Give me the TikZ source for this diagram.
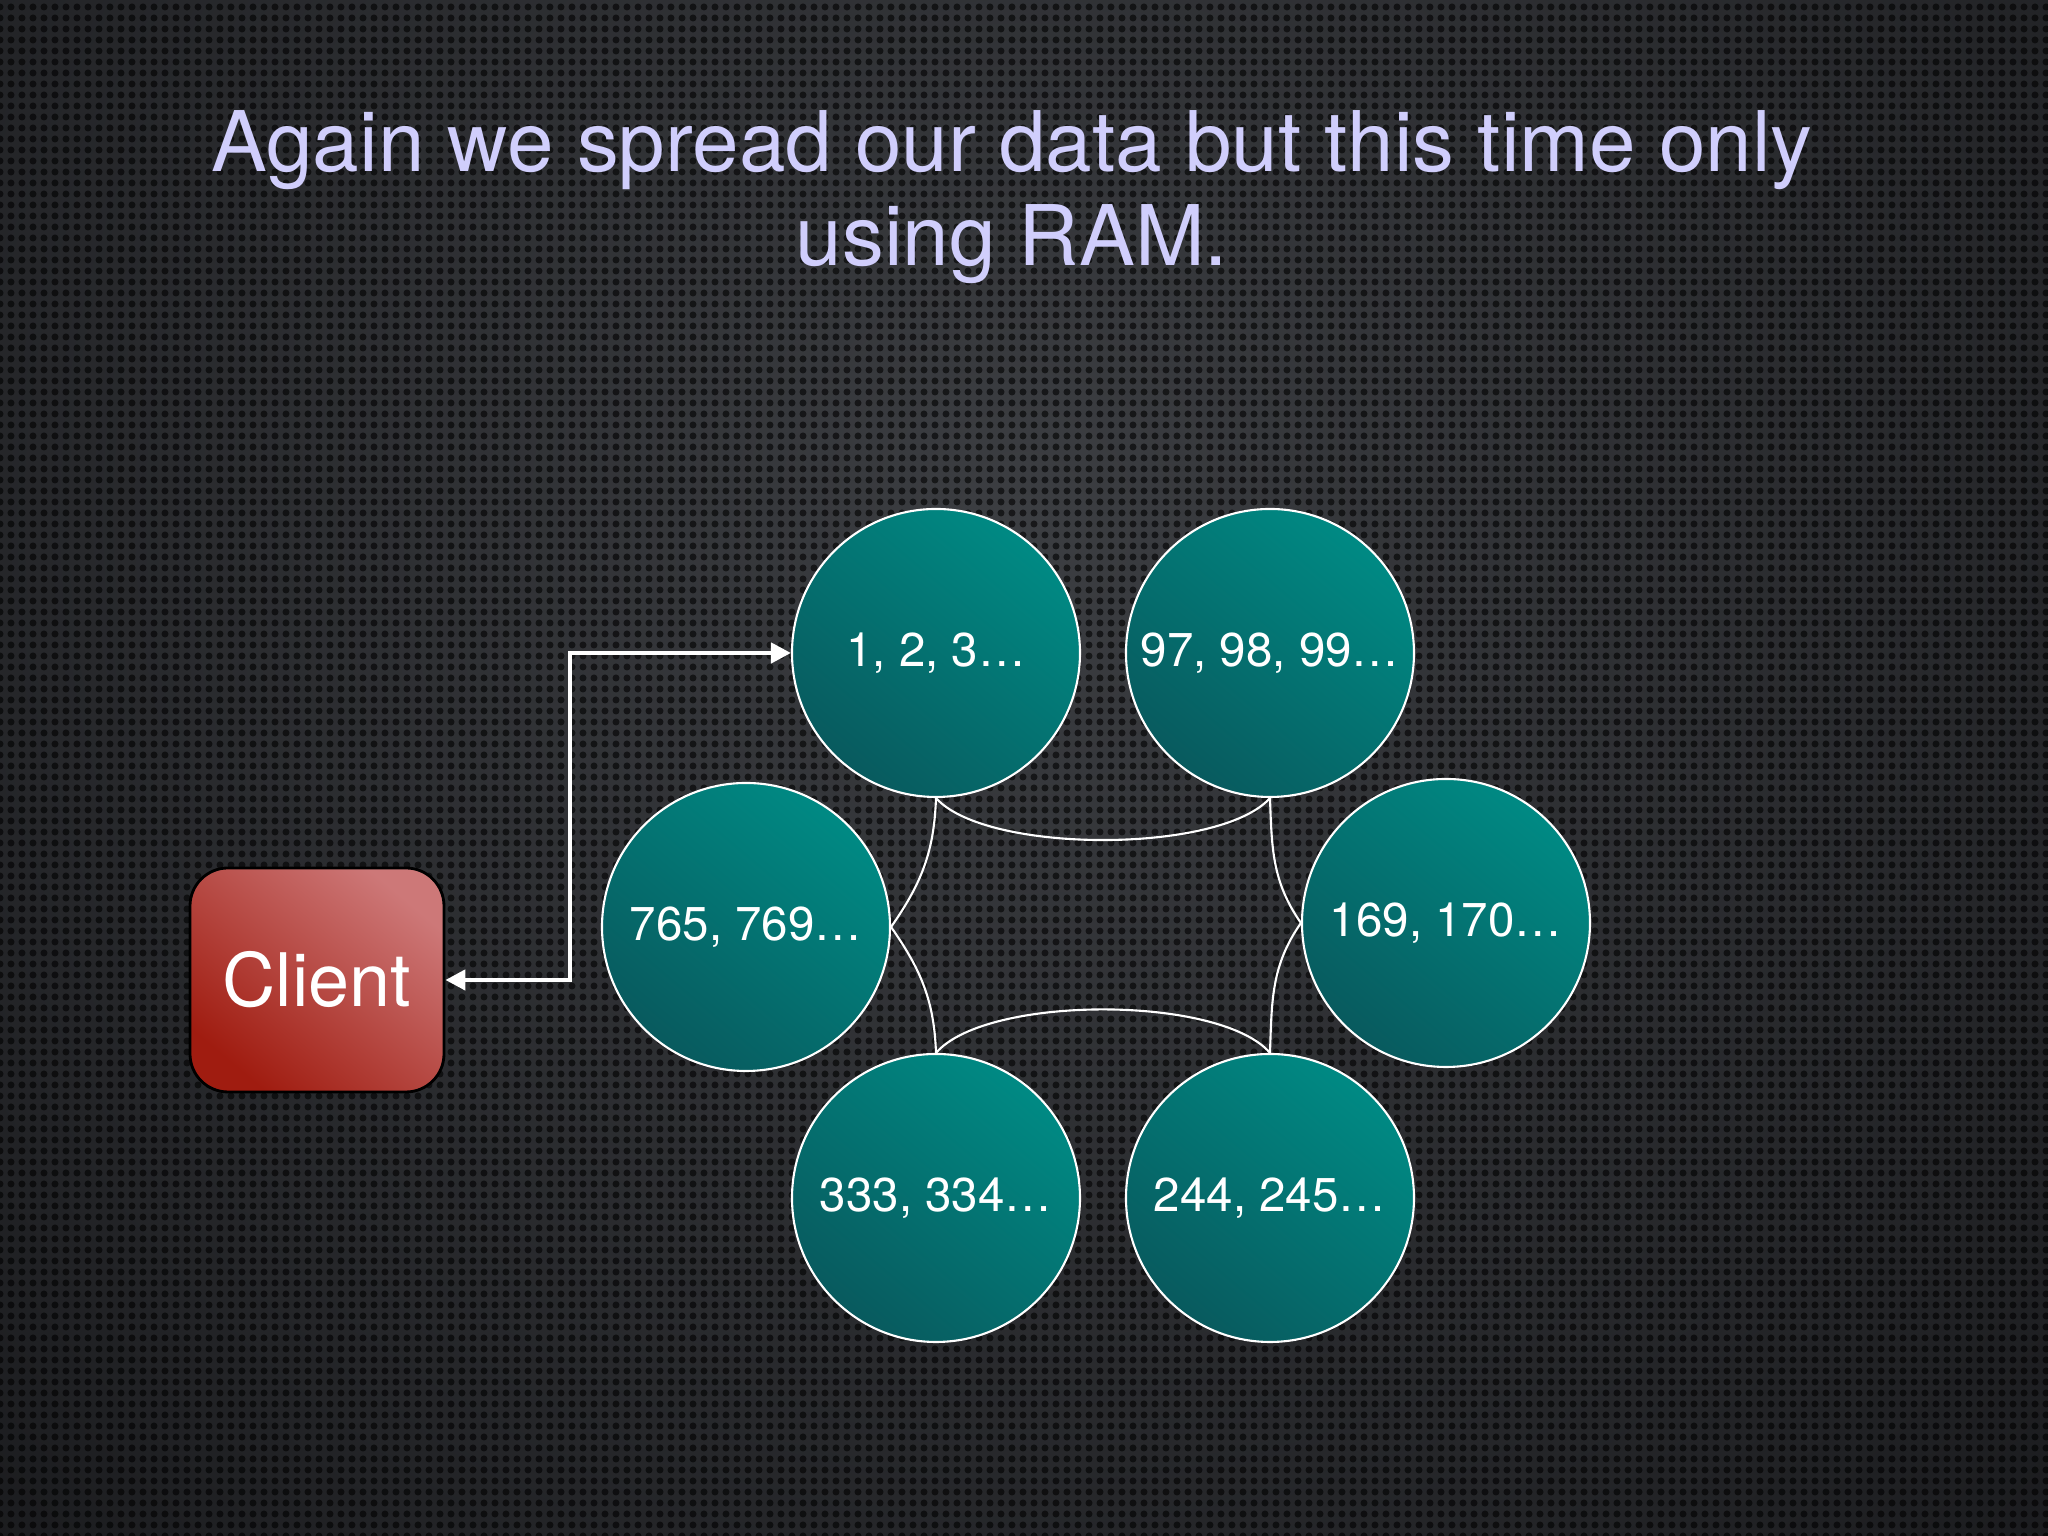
\documentclass[tikz,border=0pt]{standalone}
\usepackage{fontspec}
\setmainfont{TeX Gyre Heros}
\usepackage{xcolor}
\usepackage{tikz}
\usetikzlibrary{arrows.meta,patterns.meta}
\definecolor{titlelav}{RGB}{208,206,252}
\definecolor{bgmid}{RGB}{60,62,66}
\definecolor{bgedge}{RGB}{6,6,8}
\definecolor{tealtop}{RGB}{0,138,132}
\definecolor{tealbot}{RGB}{8,90,94}
\definecolor{redtop}{RGB}{205,120,120}
\definecolor{redbot}{RGB}{160,28,16}
\tikzset{
  ram/.style={circle, draw=white, line width=0.6pt, minimum size=2.88cm, inner sep=0pt,
    top color=tealtop, bottom color=tealbot, shading angle=-40,
    text=white, font=\fontsize{13.5}{16}\selectfont},
  client/.style={rectangle, rounded corners=0.38cm, draw=black, line width=0.8pt,
    minimum width=2.54cm, minimum height=2.24cm, top color=redtop, bottom color=redbot,
    shading angle=-40, text=white, font=\fontsize{21}{25}\selectfont},
  wire/.style={white, line width=0.6pt},
  link/.style={white, line width=1.3pt,
    {Triangle[length=2mm,width=2mm]}-{Triangle[length=2mm,width=2mm]}}
}
\begin{document}
\begin{tikzpicture}
\useasboundingbox (0,0) rectangle (20.48,15.36);
\fill[bgedge] (0,0) rectangle (20.48,15.36);
\begin{scope}
  \clip (0,0) rectangle (20.48,15.36);
  \shade[inner color=bgmid, outer color=bgedge] (10.24,10.2) circle (24);
  \fill[pattern={Dots[distance=0.11cm,radius=0.035cm]}, pattern color=black, opacity=0.6]
    (0,0) rectangle (20.48,15.36);
\end{scope}

\node[text=titlelav, align=center, anchor=north, inner sep=0pt,
  font=\fontsize{23.8}{26.8}\selectfont] (title) at (10.12,14.26)
  {Again we spread our data but this time only\\using RAM.};

\node[ram] (ram1) at (9.36,8.83) {1, 2, 3…};
\node[ram] (ram2) at (12.70,8.83) {97, 98, 99…};
\node[ram] (ram3) at (14.46,6.13) {169, 170…};
\node[ram] (ram4) at (7.46,6.09) {765, 769…};
\node[ram] (ram5) at (9.36,3.38) {333, 334…};
\node[ram] (ram6) at (12.70,3.38) {244, 245…};
\node[client] (client) at (3.17,5.56) {Client};

\coordinate (bend) at (5.70,7.0);
\draw[link] (client.east) -- (client.east -| bend) |- (ram1.west);

\draw[wire] (ram1.south) .. controls +(0.5,-0.56) and +(-0.5,-0.56) .. (ram2.south);
\draw[wire] (ram5.north) .. controls +(0.5,0.58) and +(-0.5,0.58) .. (ram6.north);
\draw[wire] (ram1.south) to[out=-92,in=55] (ram4.east);
\draw[wire] (ram4.east) to[out=-55,in=92] (ram5.north);
\draw[wire] (ram2.south) to[out=-88,in=125] (ram3.west);
\draw[wire] (ram3.west) to[out=235,in=88] (ram6.north);
\end{tikzpicture}
\end{document}
